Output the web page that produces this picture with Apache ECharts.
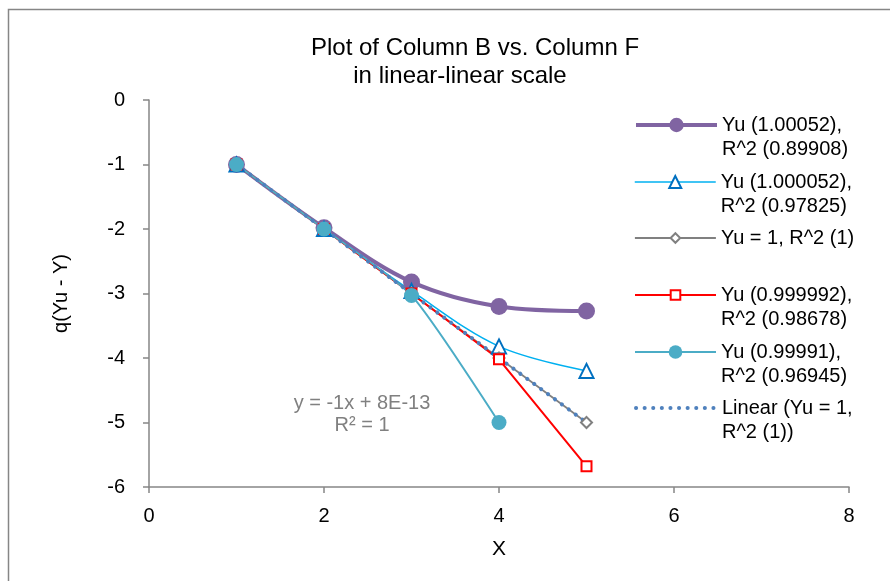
<!DOCTYPE html>
<html>
<head>
<meta charset="utf-8">
<script src="https://cdn.jsdelivr.net/npm/echarts@6/dist/echarts.min.js"></script>
<style>
  html, body { margin: 0; padding: 0; background: #fff; }
  #chart-container { width: 890px; height: 581px; }
</style>
</head>
<body>
<div id="chart-container"></div>
<script>
var dom = document.getElementById('chart-container');
var myChart = echarts.init(dom, null, { renderer: 'canvas' });

// data
var xVals = [1, 2, 3, 4, 5];
var yuA = [-1, -1.98, -2.82, -3.2, -3.27];   // Yu 1.00052
var yuB = [-1, -2, -2.96, -3.82, -4.2];      // Yu 1.000052
var yuC = [-1, -2, -3, -4, -5];              // Yu = 1
var yuD = [-1, -2, -3, -4.02, -5.68];        // Yu 0.999992
var yuE = [-1, -2, -3.03, -5.0];             // Yu 0.99991
var trendX = [1, 5];
var trendY = [-1, -5];

var names = [
  'Yu (1.00052),\nR^2 (0.89908)',
  'Yu (1.000052),\nR^2 (0.97825)',
  'Yu = 1, R^2 (1)',
  'Yu (0.999992),\nR^2 (0.98678)',
  'Yu (0.99991),\nR^2 (0.96945)',
  'Linear (Yu = 1,\nR^2 (1))'
];
var legendCenters = [125, 182, 238, 295, 352, 408];
var legendIconH = [18, 15, 12, 12, 17, 14];
var legendLineW = [4, 1.5, 1.8, 2, 2, 4];

var FONT = '"Liberation Sans", Arial, sans-serif';
var LH = 24;
var DOTS = [0.1, 8.5];

function pairs(xs, ys) {
  var out = [];
  for (var i = 0; i < ys.length; i++) out.push([xs[i], ys[i]]);
  return out;
}

// one legend per entry so each sits where the reference has it;
// two-line names get a blank line on top so the icon lines up with line one
var legends = names.map(function (n, i) {
  var twoLines = n.indexOf('\n') >= 0;
  var lg = {
    data: [n],
    left: 634,
    top: legendCenters[i] - (twoLines ? LH * 1.5 : LH / 2),
    padding: 0,
    itemWidth: 81,
    itemHeight: legendIconH[i],
    selectedMode: false,
    formatter: function (name) {
      return name.indexOf('\n') >= 0 ? ' \n' + name : name;
    },
    lineStyle: { width: legendLineW[i] },
    textStyle: {
      fontFamily: FONT,
      fontSize: 20,
      color: '#000',
      lineHeight: LH
    }
  };
  if (i === 5) {
    lg.itemStyle = { opacity: 0 };
    lg.lineStyle = { width: 4, type: DOTS, cap: 'round', color: '#4F81BD' };
  }
  return lg;
});

var option = {
  animation: false,
  backgroundColor: '#fff',
  title: [
    {
      text: 'Plot of Column B vs. Column F',
      left: 470, top: 31,
      textAlign: 'center',
      textStyle: { fontFamily: FONT, fontSize: 24, fontWeight: 'normal', color: '#000' }
    },
    {
      text: 'in linear-linear scale',
      left: 455, top: 59,
      textAlign: 'center',
      textStyle: { fontFamily: FONT, fontSize: 24, fontWeight: 'normal', color: '#000' }
    }
  ],
  legend: legends,
  grid: { left: 149, right: 41, top: 100, bottom: 94 },
  xAxis: {
    type: 'value',
    min: 0, max: 8, interval: 2,
    name: 'X',
    nameLocation: 'middle',
    nameGap: 52,
    nameTextStyle: { fontFamily: FONT, fontSize: 21, color: '#000' },
    axisLine: { onZero: false, lineStyle: { color: '#868686', width: 1.5 } },
    axisTick: { show: true, length: 6, lineStyle: { color: '#868686', width: 1.5 } },
    axisLabel: { fontFamily: FONT, fontSize: 20, color: '#000', margin: 19 },
    splitLine: { show: false }
  },
  yAxis: {
    type: 'value',
    min: -6, max: 0, interval: 1,
    name: 'q(Yu - Y)',
    nameLocation: 'middle',
    nameGap: 78,
    nameTextStyle: { fontFamily: FONT, fontSize: 20, color: '#000' },
    axisLine: { show: true, onZero: false, lineStyle: { color: '#868686', width: 1.5 } },
    axisTick: { show: true, length: 6, lineStyle: { color: '#868686', width: 1.5 } },
    axisLabel: { fontFamily: FONT, fontSize: 20, color: '#000', margin: 24 },
    splitLine: { show: false }
  },
  graphic: [
    {
      type: 'rect',
      shape: { x: 8.5, y: 9.5, width: 900, height: 600 },
      style: { fill: 'none', stroke: '#868686', lineWidth: 1.5 },
      silent: true
    },
    {
      type: 'text',
      x: 362, y: 392,
      style: {
        text: 'y = -1x + 8E-13\nR\u00b2 = 1',
        fontFamily: FONT, fontSize: 20, lineHeight: 22,
        fill: '#808080', align: 'center'
      },
      silent: true
    }
  ],
  series: [
    {
      name: names[0], type: 'line', data: pairs(xVals, yuA),
      smooth: 0.35, symbol: 'circle', symbolSize: 17,
      lineStyle: { color: '#8064A2', width: 4 },
      itemStyle: { color: '#8064A2' }
    },
    {
      name: names[1], type: 'line', data: pairs(xVals, yuB),
      smooth: 0.35, symbol: 'triangle', symbolSize: 14,
      lineStyle: { color: '#00B0F0', width: 1.5 },
      itemStyle: { color: '#fff', borderColor: '#0070C0', borderWidth: 2 }
    },
    {
      name: names[2], type: 'line', data: pairs(xVals, yuC),
      symbol: 'diamond', symbolSize: 11,
      lineStyle: { color: '#808080', width: 1.8 },
      itemStyle: { color: '#fff', borderColor: '#808080', borderWidth: 2 }
    },
    {
      name: names[3], type: 'line', data: pairs(xVals, yuD),
      symbol: 'rect', symbolSize: 10,
      lineStyle: { color: '#FF0000', width: 2 },
      itemStyle: { color: '#fff', borderColor: '#FF0000', borderWidth: 2 }
    },
    {
      name: names[4], type: 'line', data: pairs(xVals, yuE),
      smooth: 0.2, symbol: 'circle', symbolSize: 15,
      lineStyle: { color: '#4BACC6', width: 2 },
      itemStyle: { color: '#4BACC6' }
    },
    {
      name: names[5], type: 'line', data: pairs(trendX, trendY),
      symbol: 'none',
      lineStyle: { color: '#4F81BD', width: 4, type: DOTS, cap: 'round' },
      itemStyle: { color: '#4F81BD' }
    }
  ]
};

myChart.setOption(option);
window.addEventListener('resize', myChart.resize);
</script>
</body>
</html>
